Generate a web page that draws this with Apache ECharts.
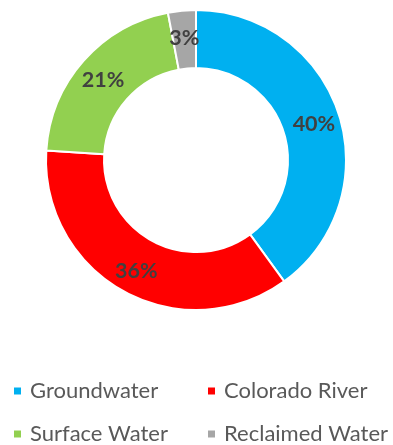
<!DOCTYPE html>
<html><head><meta charset="utf-8">
<script src="https://cdn.jsdelivr.net/npm/echarts@6/dist/echarts.min.js"></script>
<style>html,body{margin:0;padding:0;background:#fff}#c{width:393px;height:445px}</style>
</head><body><div id="c"></div>
<script>
const categories = ['Groundwater', 'Colorado River', 'Surface Water', 'Reclaimed Water'];
const values = [40, 36, 21, 3];
const colors = ['#00B0F0', '#FF0000', '#92D050', '#A6A6A6'];

const chart = echarts.init(document.getElementById('c'));
const legendPos = [[7, 375], [201, 375], [7, 418], [201, 418]];
chart.setOption({
  animation: false,
  color: colors,
  legend: categories.map((n, i) => ({
    data: [n], left: legendPos[i][0], top: legendPos[i][1],
    icon: 'rect', itemWidth: 9, itemHeight: 9, itemGap: 0,
    textStyle: { fontFamily: 'Lato', fontSize: 22, color: '#595959', padding: [0, 0, 0, 3] }
  })),
  series: [{
    type: 'pie',
    center: [196, 160],
    radius: [92, 150],
    startAngle: 90,
    clockwise: true,
    itemStyle: { borderColor: '#fff', borderWidth: 2 },
    label: {
      position: 'inside',
      formatter: '{c}%',
      offset: [0, 2],
      fontFamily: 'Lato', fontWeight: 'bold', fontSize: 21.5, color: '#404040'
    },
    labelLine: { show: false },
    data: categories.map((n, i) => ({ name: n, value: values[i] }))
  }]
});
</script></body></html>
